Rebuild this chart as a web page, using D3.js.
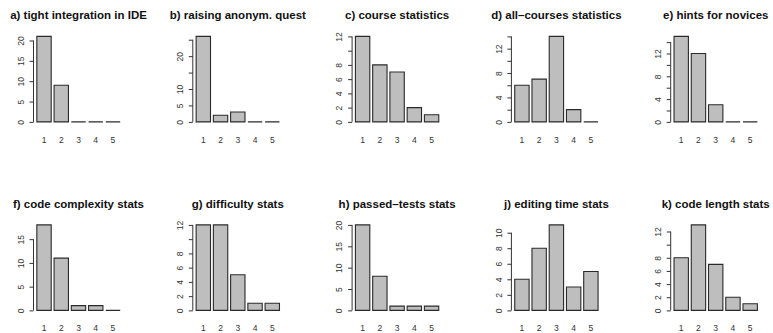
<!DOCTYPE html>
<html>
<head>
<meta charset="utf-8">
<script src="https://cdn.jsdelivr.net/npm/d3@7"></script>
<style>
  body { margin: 0; background: #fff; }
  svg { display: block; }
  text { font-family: "Liberation Sans", Arial, sans-serif; }
</style>
</head>
<body>
<div id="chart"></div>
<script>
// answer categories (x axis)
const categories = ["1", "2", "3", "4", "5"];

const titles = [
    "a) tight integration in IDE", "b) raising anonym. quest", "c) course statistics",
    "d) all\u2013courses statistics", "e) hints for novices",
    "f) code complexity stats", "g) difficulty stats", "h) passed\u2013tests stats",
    "j) editing time stats", "k) code length stats"
];

// counts per panel
const countsA = [21, 9, 0, 0, 0];
const countsB = [26, 2, 3, 0, 0];
const countsC = [12, 8, 7, 2, 1];
const countsD = [6, 7, 14, 2, 0];
const countsE = [15, 12, 3, 0, 0];
const countsF = [18, 11, 1, 1, 0];
const countsG = [12, 12, 5, 1, 1];
const countsH = [20, 8, 1, 1, 1];
const countsJ = [4, 8, 11, 3, 5];
const countsK = [8, 13, 7, 2, 1];

// y tick positions and which of them carry a label
const ticksA = [0, 5, 10, 15, 20],          labelsA = [0, 5, 10, 15, 20];
const ticksB = [0, 5, 10, 15, 20, 25],      labelsB = [0, 5, 10, 20];
const ticksC = [0, 2, 4, 6, 8, 10, 12],     labelsC = [0, 2, 4, 6, 8, 12];
const ticksD = [0, 2, 4, 6, 8, 10, 12, 14], labelsD = [0, 4, 8, 12];
const ticksE = [0, 2, 4, 6, 8, 10, 12, 14], labelsE = [0, 4, 8, 12];
const ticksF = [0, 5, 10, 15],              labelsF = [0, 5, 10, 15];
const ticksG = [0, 2, 4, 6, 8, 10, 12],     labelsG = [0, 2, 4, 6, 8, 12];
const ticksH = [0, 5, 10, 15, 20],          labelsH = [0, 5, 10, 15, 20];
const ticksJ = [0, 2, 4, 6, 8, 10],         labelsJ = [0, 2, 4, 6, 8, 10];
const ticksK = [0, 2, 4, 6, 8, 10, 12],     labelsK = [0, 2, 4, 6, 8, 12];

const counts = [countsA, countsB, countsC, countsD, countsE, countsF, countsG, countsH, countsJ, countsK];
const ticks = [ticksA, ticksB, ticksC, ticksD, ticksE, ticksF, ticksG, ticksH, ticksJ, ticksK];
const labels = [labelsA, labelsB, labelsC, labelsD, labelsE, labelsF, labelsG, labelsH, labelsJ, labelsK];

const width = 773, height = 333;
const plotW = 90, plotH = 92.3;
const colPitch = 159.3, rowPitch = 188.5;
const left0 = 33.5, top0 = 33;

const svg = d3.select("#chart")
    .append("svg")
    .attr("width", width)
    .attr("height", height);

titles.forEach((title, i) => {
    const col = i % 5, row = Math.floor(i / 5);
    const data = counts[i];
    const g = svg.append("g")
        .attr("transform", `translate(${left0 + col * colPitch}, ${top0 + row * rowPitch})`);

    // barplot-like ranges: bars width 1, space 0.2, 4% padding
    const nBars = categories.length;
    const xmin = 0.2, xmax = 0.2 + 1.2 * nBars - 0.2;
    const xpad = (xmax - xmin) * 0.04;
    const xScale = d3.scaleLinear()
        .domain([xmin - xpad, xmax + xpad])
        .range([0, plotW]);

    const ymax = d3.max(data);
    const yScale = d3.scaleLinear()
        .domain([-0.04 * ymax, ymax * 1.04])
        .range([plotH, 0]);

    // title
    g.append("text")
        .attr("x", plotW / 2)
        .attr("y", -14)
        .attr("text-anchor", "middle")
        .attr("font-size", 11.5)
        .attr("font-weight", "bold")
        .attr("fill", "#111")
        .text(title);

    // bars (paths so that zero counts still show as a flat line)
    const bw = xScale(1) - xScale(0);
    g.selectAll("path.mark")
        .data(data)
        .enter().append("path")
        .attr("class", "mark")
        .attr("d", (d, j) => {
            const x0 = xScale(0.2 + 1.2 * j);
            return `M${x0},${yScale(0)}H${x0 + bw}V${yScale(d)}H${x0}Z`;
        })
        .attr("fill", "#bebebe")
        .attr("stroke", "#2a2a2a")
        .attr("stroke-width", 1.1);

    // y axis
    const lab = labels[i];
    const axisY = d3.axisLeft(yScale)
        .tickValues(ticks[i])
        .tickSize(4)
        .tickPadding(2)
        .tickFormat(d => lab.includes(d) ? d : "");
    const ax = g.append("g")
        .attr("class", "axis_y")
        .call(axisY);
    ax.select(".domain").remove();
    ax.append("line")
        .attr("x1", 0).attr("x2", 0)
        .attr("y1", yScale(ticks[i][0]))
        .attr("y2", yScale(ticks[i][ticks[i].length - 1]))
        .attr("stroke", "#333");
    ax.selectAll(".tick line").attr("stroke", "#333");
    ax.selectAll(".tick text")
        .attr("font-size", 8.5)
        .attr("fill", "#333")
        .attr("text-anchor", "middle")
        .attr("dy", null)
        .attr("x", null)
        .attr("transform", "translate(-12, 0) rotate(-90)")
        .attr("dominant-baseline", "middle");

    // x labels
    g.selectAll(".xlab")
        .data(categories)
        .enter().append("text")
        .attr("class", "xlab")
        .attr("x", (d, j) => xScale(0.7 + 1.2 * j))
        .attr("y", plotH + 15)
        .attr("text-anchor", "middle")
        .attr("dominant-baseline", "middle")
        .attr("font-size", 8.5)
        .attr("fill", "#333")
        .text(d => d);
});
</script>
</body>
</html>
